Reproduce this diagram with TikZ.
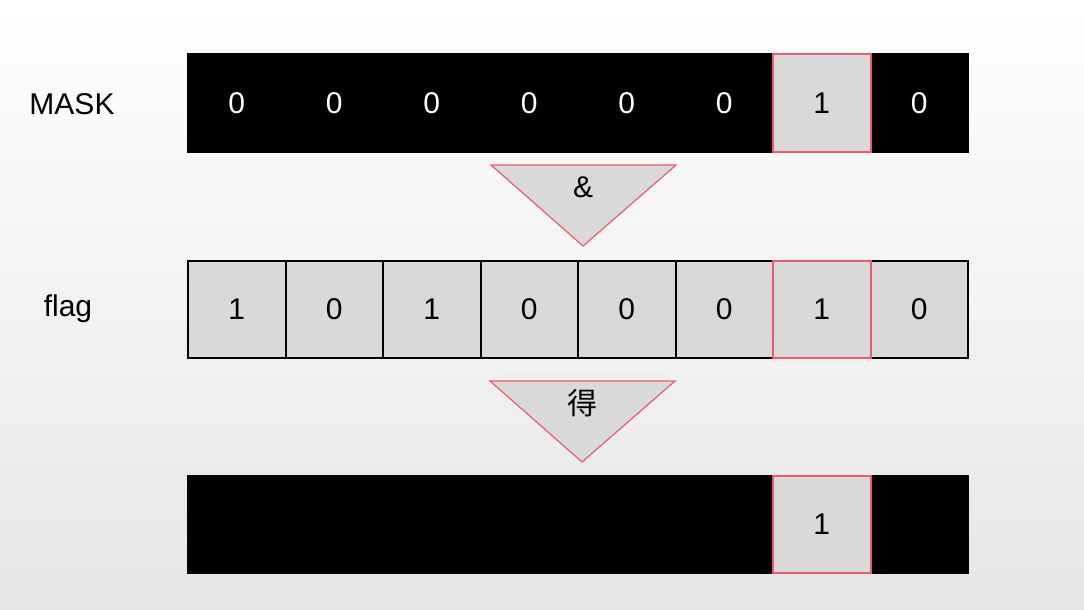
\documentclass[tikz,border=0pt]{standalone}
\usepackage{fontspec}
\setmainfont{Liberation Sans}
\newfontfamily\cjk{Noto Sans CJK SC}
\definecolor{cellgray}{HTML}{D9D9D9}
\definecolor{markred}{HTML}{EB5A70}
\tikzset{
  bit/.style={
    draw=black,
    fill=cellgray,
    line width=2pt,
    minimum width=97.5pt,
    minimum height=97pt,
    inner sep=0pt,
    font=\fontsize{30}{30}\selectfont,
  },
  hidden/.style={bit, fill=black, draw=black, text=white},
  picked/.style={bit, draw=markred},
  op/.style={fill=cellgray, draw=markred, line width=1.2pt},
  rowlabel/.style={font=\fontsize{30}{30}\selectfont},
}

\begin{document}
\begin{tikzpicture}[x=1pt, y=-1pt]
  \useasboundingbox (0, 0) rectangle (1084, 610);
  \shade[top color=white, middle color=gray!6, bottom color=gray!20] (0, 0) rectangle (1084, 610);

  % MASK row
  \node[rowlabel] (masklabel) at (72, 104) {MASK};
  \foreach \i in {1,...,6,8}
    \node[hidden] (mask\i) at ({188+97.5*(\i-0.5)}, 103) {0};
  \node[picked] (mask7) at ({188+97.5*6.5}, 103) {1};

  % and
  \coordinate (andleft) at (491, 165);
  \coordinate (andright) at (676, 165);
  \coordinate (andtip) at (583, 246);
  \draw[op] (andleft) -- (andright) -- (andtip) -- cycle;
  \node[rowlabel] (and) at (583, 187) {\&};

  % flag row
  \node[rowlabel] (flaglabel) at (68, 309) {flag};
  \foreach \v/\i in {1/1, 0/2, 1/3, 0/4, 0/5, 0/6, 0/8}
    \node[bit] (flag\i) at ({188+97.5*(\i-0.5)}, 309) {\v};
  \node[picked] (flag7) at ({188+97.5*6.5}, 309) {1};

  % result
  \coordinate (getleft) at (490, 381);
  \coordinate (getright) at (675, 381);
  \coordinate (gettip) at (582, 462);
  \draw[op] (getleft) -- (getright) -- (gettip) -- cycle;
  \node[rowlabel] (get) at (582, 403) {\cjk 得};

  \foreach \i in {1,...,6,8}
    \node[hidden] (out\i) at ({188+97.5*(\i-0.5)}, 524) {};
  \node[picked] (out7) at ({188+97.5*6.5}, 524) {1};

\end{tikzpicture}
\end{document}
